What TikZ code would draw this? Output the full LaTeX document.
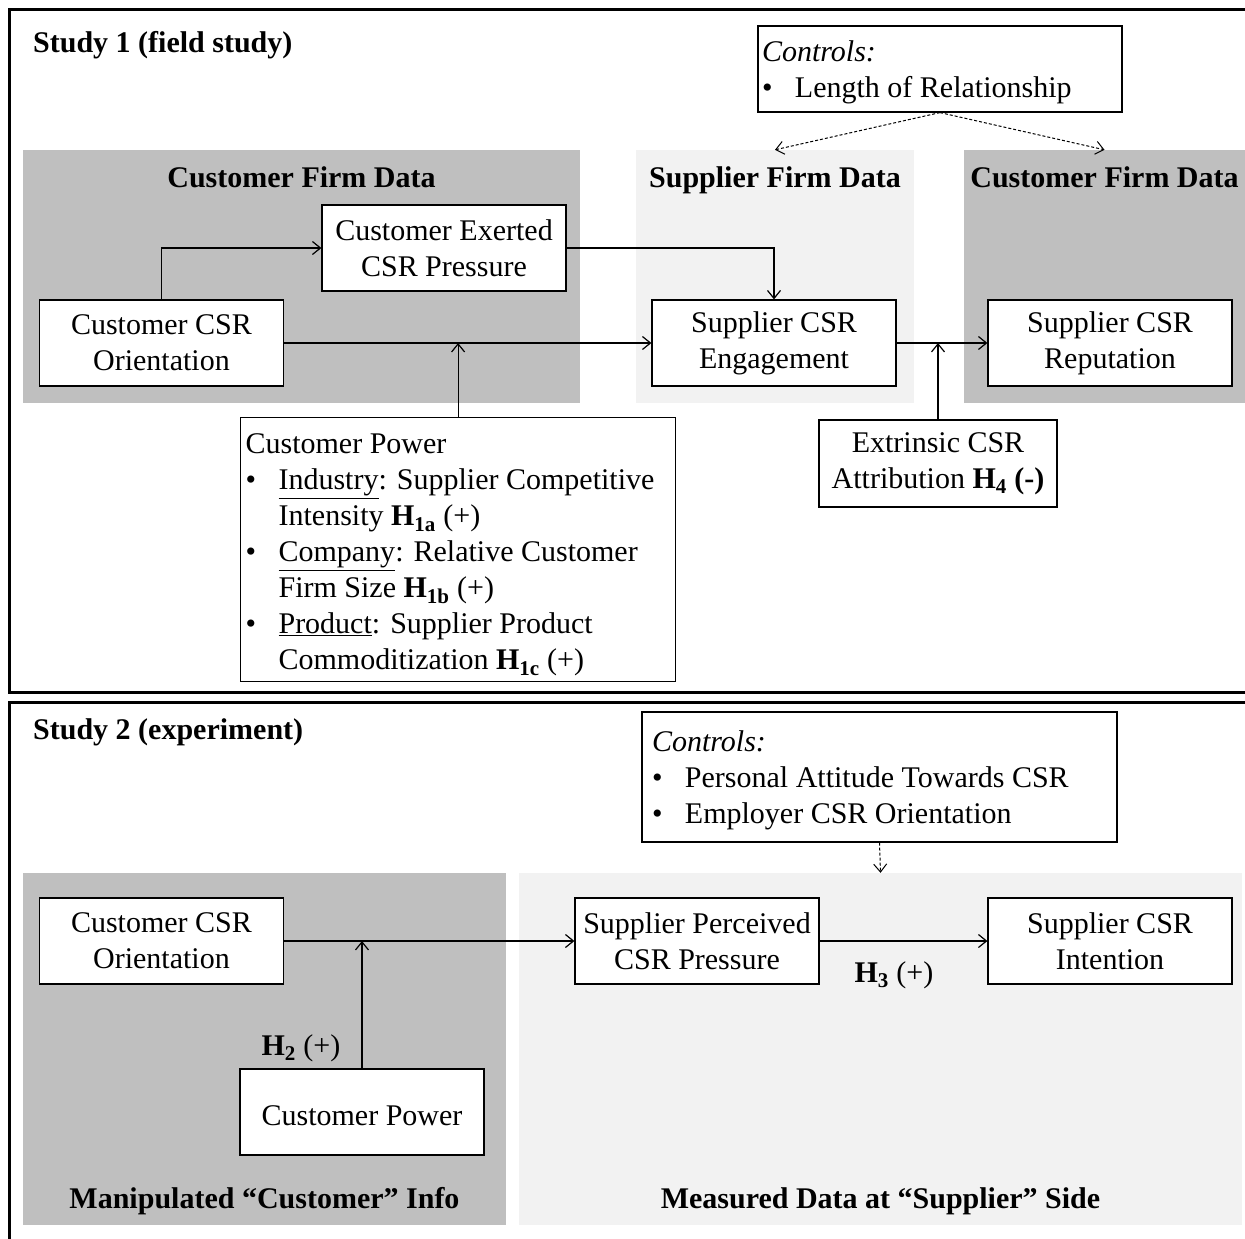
\documentclass[tikz,border=0pt]{standalone}
\usepackage{fontspec}
\setmainfont{Liberation Serif}
\usepackage{xcolor}
\usetikzlibrary{arrows.meta,positioning,calc}
\definecolor{darkfill}{HTML}{BFBFBF}
\definecolor{lightfill}{HTML}{F2F2F2}
\newcommand{\bul}{\makebox[33pt][l]{\textbullet}}
\newcommand{\hyp}[1]{\textbf{H\textsubscript{#1}}}

\begin{document}
\begin{tikzpicture}[x=1pt, y=-1pt,
  >={Straight Barb[length=8pt,width=13pt]},
  font=\fontsize{30}{36}\selectfont,
  box/.style={draw, line width=1.2pt, fill=white, align=center, minimum width=244pt, minimum height=86pt, inner sep=2pt,
    execute at begin node={\rule{0pt}{28pt}}},
  area/.style={draw=none, minimum height=253pt, inner sep=0pt},
  darkarea/.style={area, fill=darkfill},
  lightarea/.style={area, fill=lightfill},
  lbl/.style={inner sep=0pt},
  head/.style={lbl, anchor=base, font=\fontsize{30}{36}\selectfont\bfseries},
  link/.style={->, line width=1.2pt},
  ctrl/.style={->, line width=1pt, dash pattern=on 3pt off 2pt},
  frame/.style={line width=3pt}]
  \useasboundingbox (0,0) rectangle (1245,1239);

  % Study frames
  \draw[frame] (1280,10) -- (9.5,10) -- (9.5,692) -- (1280,692);
  \draw[frame] (1280,702) -- (9.5,702) -- (9.5,1260);
  \node[head, anchor=base west] (study1) at (33,53) {Study 1 (field study)};
  \node[head, anchor=base west] (study2) at (33,739) {Study 2 (experiment)};

  % Study 1: data areas
  \node[darkarea, minimum width=557pt] (cust1) at (301.5,276.5) {};
  \node[lightarea, minimum width=278pt] (supp1) at (775,276.5) {};
  \node[darkarea, minimum width=281pt] (cust1r) at (1104.5,276.5) {};
  \node[head] (cust1head) at ([yshift=-38pt]cust1.north) {Customer Firm Data};
  \node[head] (supp1head) at ([yshift=-38pt]supp1.north) {Supplier Firm Data};
  \node[head] (cust1rhead) at ([yshift=-38pt]cust1r.north) {Customer Firm Data};

  % Study 1: constructs
  \node[box] (exerted) at (444,248) {Customer Exerted\\CSR Pressure};
  \node[box] (orient) at (161.5,343) {Customer CSR\\Orientation};
  \node[box] (engage) at (774,343) {Supplier CSR\\Engagement};
  \node[box] (reput) at (1110,343) {Supplier CSR\\Reputation};
  \node[box, minimum width=238pt, minimum height=87pt] (extr) at (938,463.5) {Extrinsic CSR\\Attribution \textbf{H\textsubscript{4} (-)}};
  \node[box, align=flush left, minimum width=364pt, text width=356pt, inner xsep=4pt] (ctrl1) at (940,69)
    {\textit{Controls:}\\\bul Length of Relationship};
  \node[box, anchor=north west, align=flush left, minimum width=435pt, text width=425pt, inner xsep=5pt, minimum height=264pt] (power1) at (240,417) {
    \rule{0pt}{31pt}Customer Power\\
    \bul\underline{Industry}: Supplier Competitive\\
    \hspace*{33pt}Intensity \hyp{1a} (+)\\
    \bul\underline{Company}: Relative Customer\\
    \hspace*{33pt}Firm Size \hyp{1b} (+)\\
    \bul\underline{Product}: Supplier Product\\
    \hspace*{33pt}Commoditization \hyp{1c} (+)};

  % Study 1: paths
  \draw[link] (orient.north) |- (exerted.west);
  \draw[link] (exerted.east) -| (engage.north);
  \draw[link] (orient.east) -- (engage.west);
  \draw[link] (power1.north) -- (power1.north |- orient.east);
  \draw[link] (engage.east) -- (reput.west);
  \draw[link] (extr.north) -- (extr.north |- engage.east);
  \draw[ctrl] (ctrl1.south) -- (supp1.north);
  \draw[ctrl] (ctrl1.south) -- (cust1r.north);

  % Study 2: data areas
  \node[darkarea, minimum width=483pt, minimum height=352pt] (manip) at (264.5,1049) {};
  \node[lightarea, minimum width=723pt, minimum height=352pt] (meas) at (880.5,1049) {};
  \node[head] (maniphead) at ([yshift=17pt]manip.south) {Manipulated “Customer” Info};
  \node[head] (meashead) at ([yshift=17pt]meas.south) {Measured Data at “Supplier” Side};

  % Study 2: constructs
  \node[box] (orient2) at (161.5,941) {Customer CSR\\Orientation};
  \node[box] (perc) at (697,941) {Supplier Perceived\\CSR Pressure};
  \node[box] (intent) at (1110,941) {Supplier CSR\\Intention};
  \node[box] (power2) at (362,1112) {Customer Power};
  \node[box, align=flush left, minimum width=475pt, text width=455pt, inner xsep=10pt, minimum height=130pt] (ctrl2) at (879.5,777)
    {\textit{Controls:}\\\bul Personal Attitude Towards CSR\\\bul Employer CSR Orientation};

  % Study 2: paths
  \draw[link] (orient2.east) -- (perc.west);
  \draw[link] (power2.north) -- (power2.north |- orient2.east);
  \draw[link] (perc.east) -- (intent.west);
  \draw[ctrl] (ctrl2.south) -- (meas.north);
  \node[lbl] (h2) at (301,1048) {\hyp{2} (+)};
  \node[lbl] (h3) at (894,975) {\hyp{3} (+)};
\end{tikzpicture}
\end{document}
